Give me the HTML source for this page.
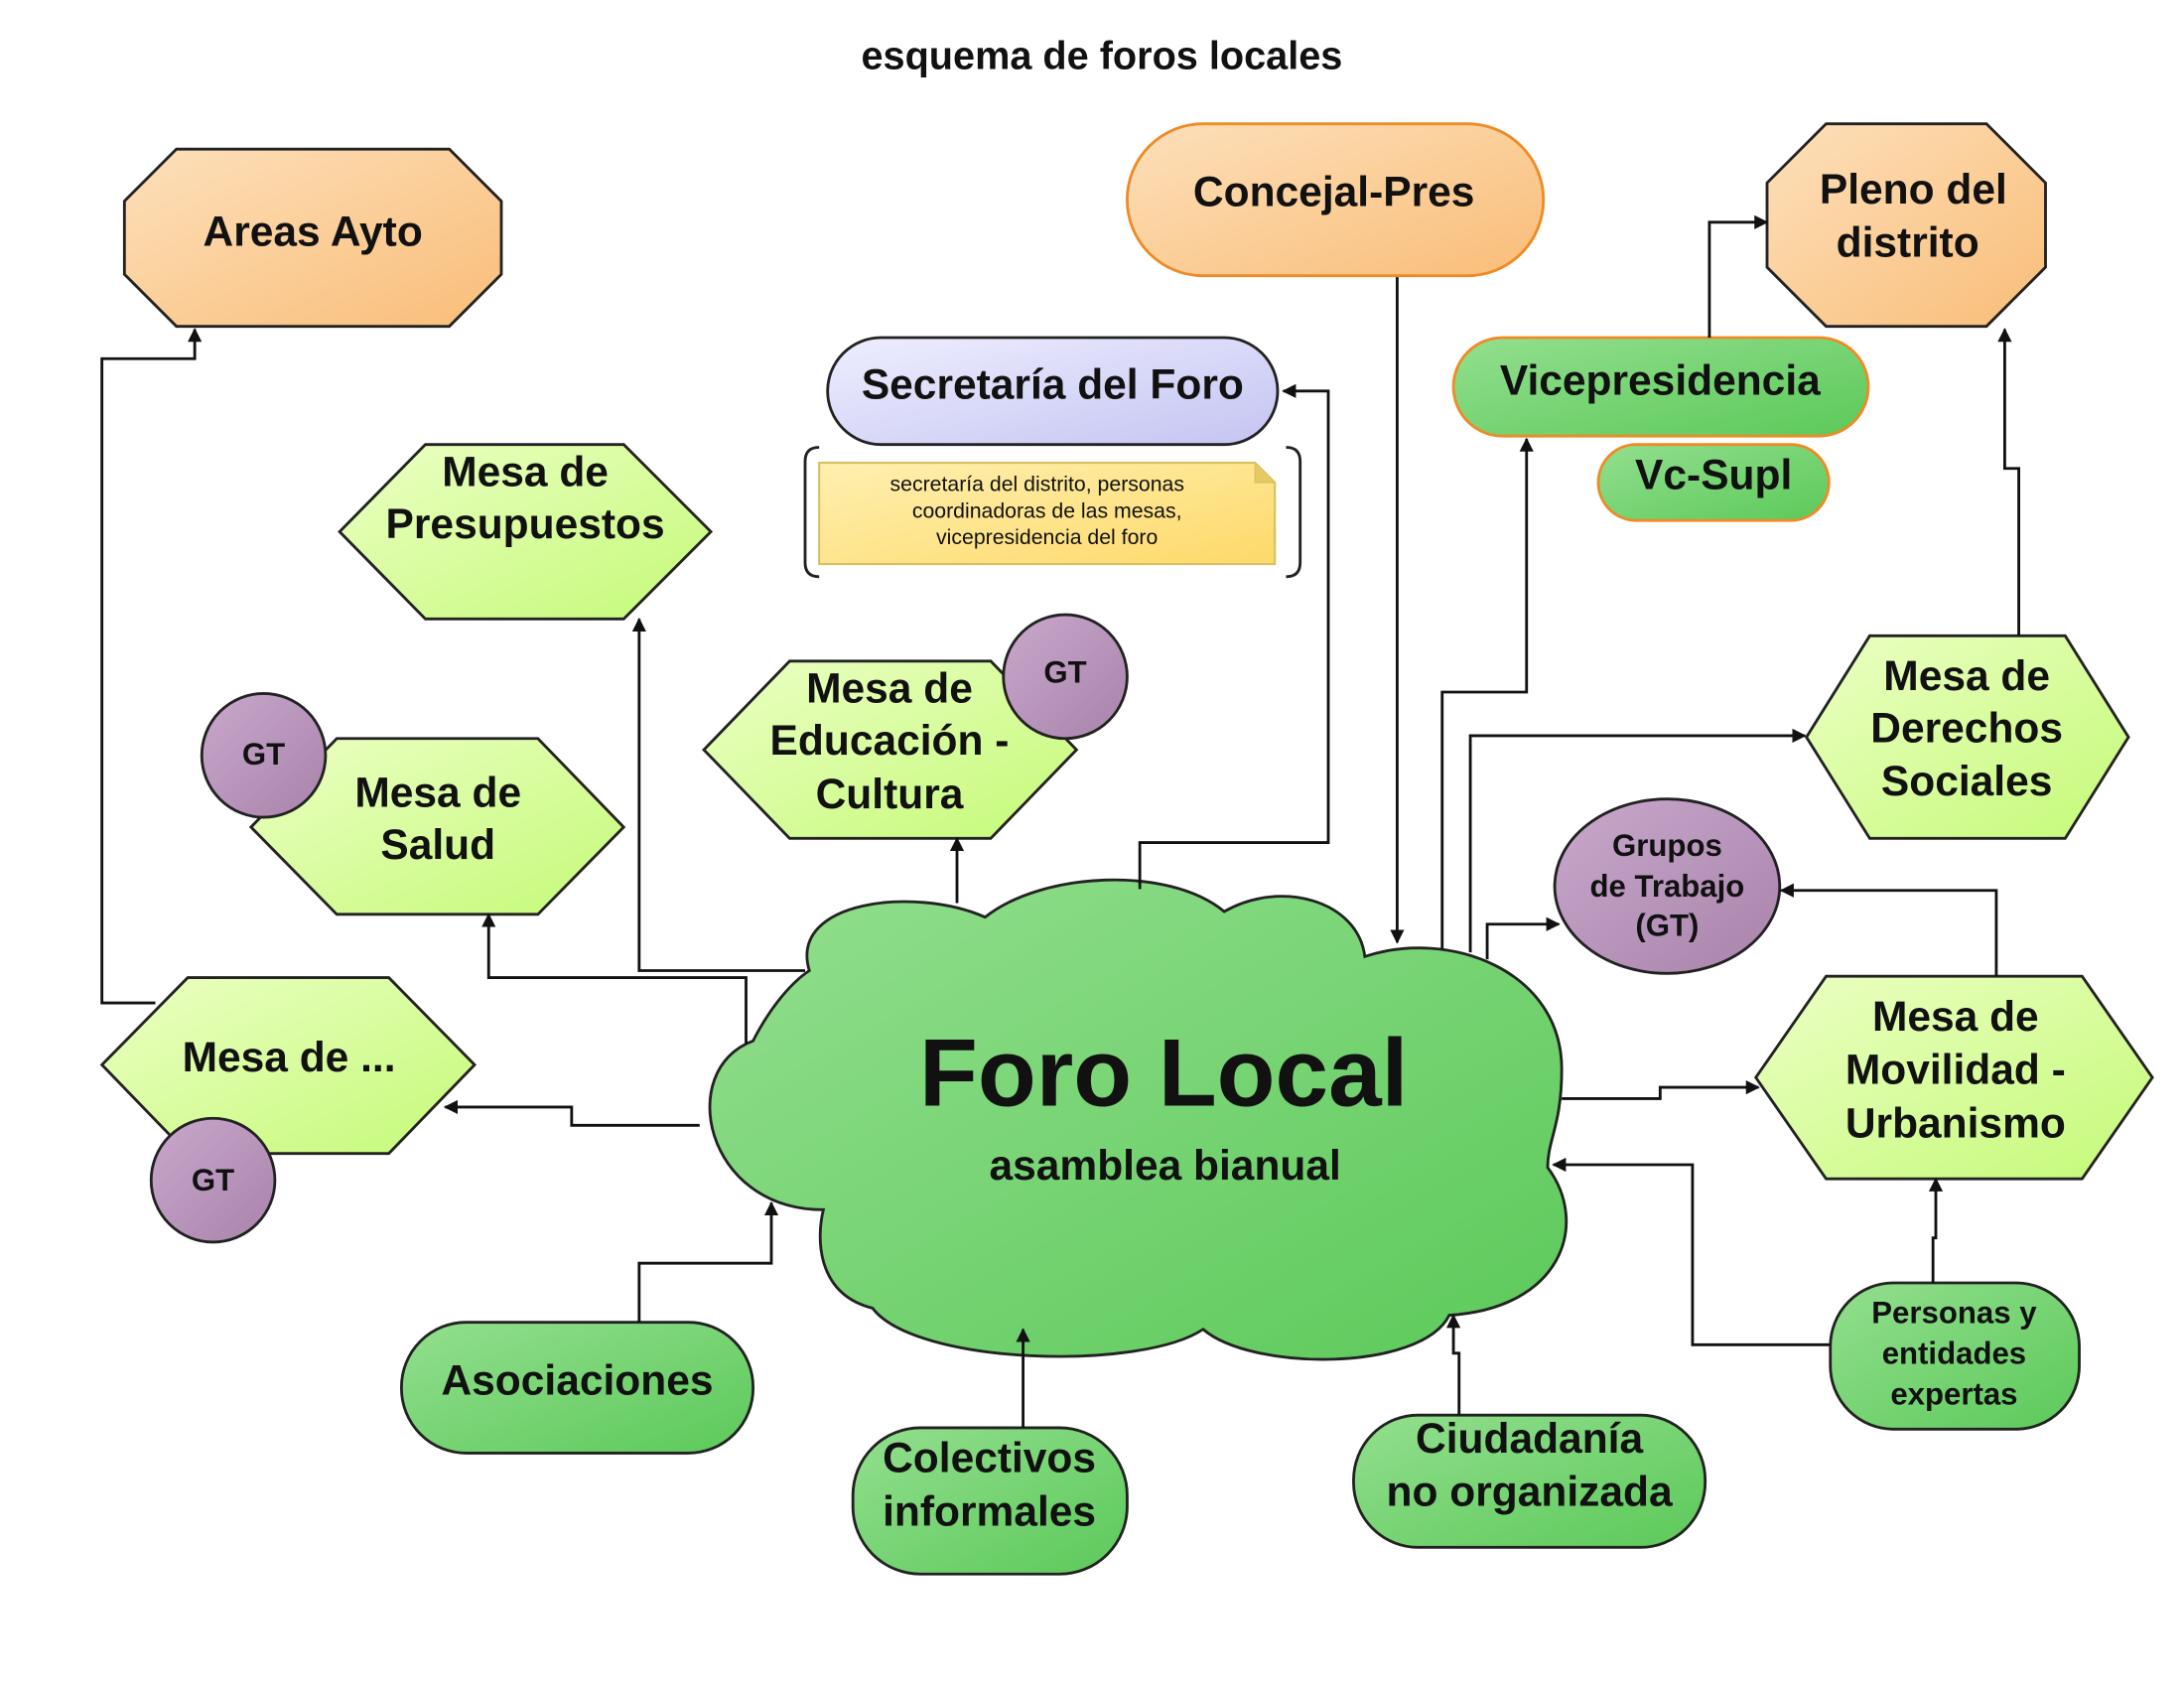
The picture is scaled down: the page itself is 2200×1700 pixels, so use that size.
<!DOCTYPE html>
<html><head><meta charset="utf-8"><style>
html,body{margin:0;padding:0;background:#fff;width:2200px;height:1700px;overflow:hidden}
svg{display:block}
text{font-family:"Liberation Sans",sans-serif;font-weight:bold;fill:#111;text-anchor:middle;dominant-baseline:central}
</style></head><body>
<svg width="2200" height="1700" viewBox="0 0 1552 1200" xmlns="http://www.w3.org/2000/svg">
<defs>
<linearGradient id="org" x1="0" y1="0" x2="1" y2="1"><stop offset="0" stop-color="#fde0bb"/><stop offset="1" stop-color="#f9bd78"/></linearGradient>
<linearGradient id="grn" x1="0" y1="0" x2="1" y2="1"><stop offset="0" stop-color="#93df8e"/><stop offset="1" stop-color="#5cc95a"/></linearGradient>
<linearGradient id="lg" x1="0" y1="0" x2="1" y2="1"><stop offset="0" stop-color="#ecffc4"/><stop offset="1" stop-color="#c4fa78"/></linearGradient>
<linearGradient id="lav" x1="0" y1="0" x2="1" y2="1"><stop offset="0" stop-color="#eeeeff"/><stop offset="1" stop-color="#c4c4f2"/></linearGradient>
<linearGradient id="pur" x1="0" y1="0" x2="1" y2="1"><stop offset="0" stop-color="#c9a8cc"/><stop offset="1" stop-color="#a883ab"/></linearGradient>
<linearGradient id="yel" x1="0" y1="0" x2="1" y2="1"><stop offset="0" stop-color="#fff0b0"/><stop offset="1" stop-color="#fdd96a"/></linearGradient>
<marker id="a" viewBox="0 0 10 10" refX="9" refY="5" markerWidth="5" markerHeight="5" orient="auto"><path d="M0,0 L10,5 L0,10 z" fill="#111"/></marker>
</defs>

<text x="783" y="40" font-size="28">esquema de foros locales</text>

<!-- Areas Ayto -->
<polygon points="125,106 319,106 356,143 356,195 319,232 125,232 88,195 88,143" fill="url(#org)" stroke="#222" stroke-width="2"/>
<text x="222" y="165" font-size="30">Areas Ayto</text>

<!-- Concejal-Pres -->
<rect x="801" y="88" width="296" height="108" rx="54" fill="url(#org)" stroke="#f08a24" stroke-width="2"/>
<text x="948" y="137" font-size="30">Concejal-Pres</text>

<!-- Pleno -->
<polygon points="1298,88 1412,88 1454,130 1454,190 1412,232 1298,232 1256,190 1256,130" fill="url(#org)" stroke="#222" stroke-width="2"/>
<text x="1360" y="135" font-size="30">Pleno del</text>
<text x="1356" y="173" font-size="30">distrito</text>

<!-- Secretaria -->
<rect x="588" y="240" width="320" height="76" rx="38" fill="url(#lav)" stroke="#222" stroke-width="2"/>
<text x="748" y="274" font-size="30">Secretaría del Foro</text>
<path d="M582,318 Q572,318 572,328 V400 Q572,410 582,410" fill="none" stroke="#222" stroke-width="2"/>
<path d="M914,318 Q924,318 924,328 V400 Q924,410 914,410" fill="none" stroke="#222" stroke-width="2"/>
<path d="M582,329 H892 L906,343 V401 H582 Z" fill="url(#yel)" stroke="#d8c060" stroke-width="1.5"/>
<path d="M892,329 V343 H906" fill="#e8c860" stroke="#d8c060" stroke-width="1"/>
<text x="737" y="344" font-size="15" style="font-weight:normal">secretaría del distrito, personas</text>
<text x="744" y="363" font-size="15" style="font-weight:normal">coordinadoras de las mesas,</text>
<text x="744" y="382" font-size="15" style="font-weight:normal">vicepresidencia del foro</text>

<!-- Vicepresidencia -->
<rect x="1033" y="240" width="295" height="70" rx="35" fill="url(#grn)" stroke="#f08a24" stroke-width="2"/>
<text x="1180" y="271" font-size="30">Vicepresidencia</text>
<rect x="1136" y="316" width="164" height="54" rx="27" fill="url(#grn)" stroke="#f08a24" stroke-width="2"/>
<text x="1218" y="338" font-size="30">Vc-Supl</text>

<!-- Hexagons -->
<g fill="url(#lg)" stroke="#222" stroke-width="2">
<polygon points="241,378 302,316 443,316 505,378 443,440 302,440"/>
<polygon points="500,533 561,470 704,470 765,533 704,596 561,596"/>
<polygon points="178,588 239,525 382,525 443,588 382,650 239,650"/>
<polygon points="72,757 133,695 276,695 337,757 276,820 133,820"/>
<polygon points="1284,524 1329,452 1468,452 1513,524 1468,596 1329,596"/>
<polygon points="1248,766 1298,694 1480,694 1530,766 1480,838 1298,838"/>
</g>
<text x="373" y="336" font-size="30">Mesa de</text>
<text x="373" y="373" font-size="30">Presupuestos</text>
<text x="632" y="490" font-size="30">Mesa de</text>
<text x="632" y="527" font-size="30">Educación -</text>
<text x="632" y="565" font-size="30">Cultura</text>
<text x="311" y="564" font-size="30">Mesa de</text>
<text x="311" y="601" font-size="30">Salud</text>
<text x="205" y="752" font-size="30">Mesa de ...</text>
<text x="1398" y="481" font-size="30">Mesa de</text>
<text x="1398" y="518" font-size="30">Derechos</text>
<text x="1398" y="556" font-size="30">Sociales</text>
<text x="1390" y="723" font-size="30">Mesa  de</text>
<text x="1390" y="761" font-size="30">Movilidad -</text>
<text x="1390" y="799" font-size="30">Urbanismo</text>

<!-- GT circles -->
<g fill="url(#pur)" stroke="#222" stroke-width="2">
<circle cx="757" cy="481" r="44"/>
<circle cx="187" cy="537" r="44"/>
<circle cx="151" cy="839" r="44"/>
<ellipse cx="1185" cy="630" rx="80" ry="62"/>
</g>
<text x="757" y="478" font-size="22">GT</text>
<text x="187" y="536" font-size="22">GT</text>
<text x="151" y="839" font-size="22">GT</text>
<text x="1185" y="601" font-size="22">Grupos</text>
<text x="1185" y="630" font-size="22">de Trabajo</text>
<text x="1185" y="658" font-size="22">(GT)</text>

<!-- Cloud -->
<path d="M575,690 C560,640 650,630 700,652 C740,620 830,615 870,648 C910,625 965,640 970,680 C1030,660 1110,690 1110,760 C1110,800 1100,810 1100,830 C1130,870 1110,930 1030,935 C1010,975 890,975 855,945 C810,975 650,970 620,930 C580,920 580,880 585,860 C500,860 480,760 535,740 C545,720 560,700 575,690 Z" fill="url(#grn)" stroke="#222" stroke-width="2"/>
<text x="827" y="763" font-size="68">Foro Local</text>
<text x="828" y="829" font-size="30">asamblea bianual</text>

<!-- bottom -->
<g fill="url(#grn)" stroke="#222" stroke-width="2">
<rect x="285" y="940" width="250" height="93" rx="46"/>
<rect x="606" y="1015" width="195" height="104" rx="48"/>
<rect x="962" y="1006" width="250" height="94" rx="46"/>
<rect x="1301" y="912" width="177" height="104" rx="45"/>
</g>
<text x="410" y="982" font-size="30">Asociaciones</text>
<text x="703" y="1037" font-size="30">Colectivos</text>
<text x="703" y="1075" font-size="30">informales</text>
<text x="1087" y="1023" font-size="30">Ciudadanía</text>
<text x="1087" y="1061" font-size="30">no organizada</text>
<text x="1389" y="933" font-size="22">Personas y</text>
<text x="1389" y="962" font-size="22">entidades</text>
<text x="1389" y="991" font-size="22">expertas</text>

<!-- connectors (on top) -->
<g fill="none" stroke="#111" stroke-width="2" marker-end="url(#a)">
<path d="M110,713 H72 V255 H138 V234"/>
<path d="M993,197 V670"/>
<path d="M810,632 V599 H944 V278 H912"/>
<path d="M1025,675 V492 H1085 V312"/>
<path d="M1215,240 V158 H1256"/>
<path d="M1435,452 V333 H1425 V234"/>
<path d="M1045,677 V523 H1283"/>
<path d="M1057,682 V657 H1108"/>
<path d="M1419,694 V633 H1266"/>
<path d="M1110,781 H1180 V773 H1250"/>
<path d="M1301,956 H1203 V828 H1104"/>
<path d="M1374,912 V880 H1376 V838"/>
<path d="M1037,1006 V962 H1033 V935"/>
<path d="M727,1015 V945"/>
<path d="M454,940 V898 H548 V855"/>
<path d="M497,800 H406 V787 H316"/>
<path d="M530,742 V695 H347 V650"/>
<path d="M572,690 H454 V440"/>
<path d="M680,642 V596"/>
</g>
</svg>
</body></html>
